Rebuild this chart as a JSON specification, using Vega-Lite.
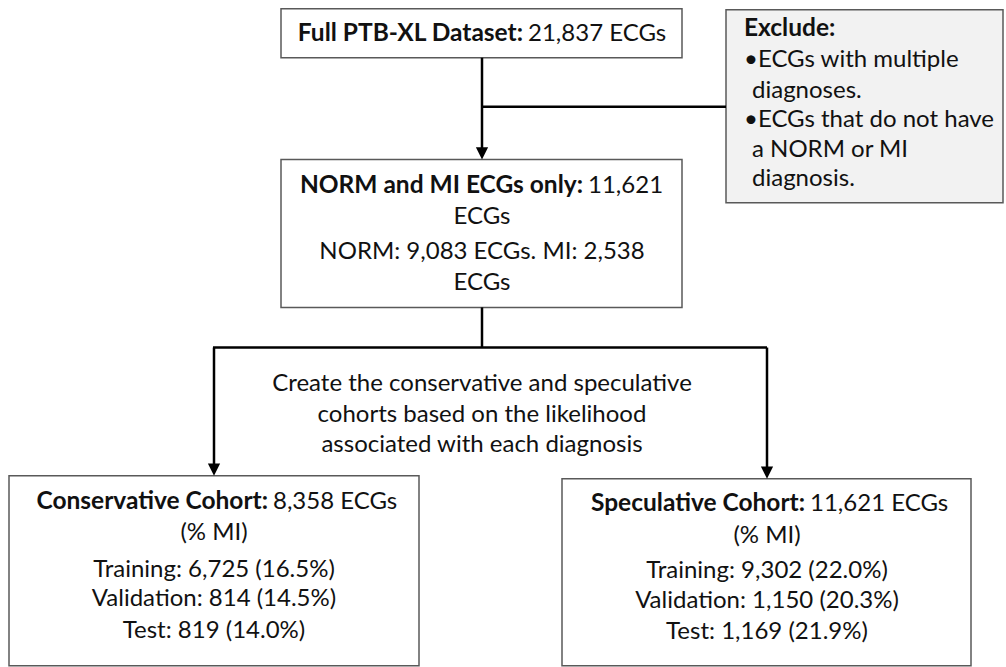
{
  "$schema": "https://vega.github.io/schema/vega-lite/v6.json",
  "width": 1006,
  "height": 667,
  "padding": 0,
  "autosize": {"type": "fit", "contains": "padding"},
  "background": "white",
  "config": {"view": {"stroke": null}},
  "datasets": {
    "boxes": [
      {"id": "full", "x": 281, "x2": 682, "y": 9, "y2": 59, "fill": "#ffffff"},
      {"id": "exclude", "x": 726, "x2": 1003, "y": 10, "y2": 207, "fill": "#f2f2f2"},
      {"id": "norm", "x": 281, "x2": 682, "y": 163, "y2": 314, "fill": "#ffffff"},
      {"id": "cons", "x": 9, "x2": 419, "y": 486, "y2": 680, "fill": "#ffffff"},
      {"id": "spec", "x": 562, "x2": 971, "y": 489, "y2": 680, "fill": "#ffffff"}
    ],
    "lines": [
      {"x": 482, "y": 59, "x2": 482, "y2": 155},
      {"x": 482, "y": 109, "x2": 726, "y2": 109},
      {"x": 482, "y": 314, "x2": 482, "y2": 355},
      {"x": 213, "y": 355, "x2": 767, "y2": 355},
      {"x": 214, "y": 355, "x2": 214, "y2": 478},
      {"x": 767, "y": 355, "x2": 767, "y2": 481}
    ],
    "arrows": [
      {"x": 482, "y": 163},
      {"x": 214, "y": 486},
      {"x": 767, "y": 489}
    ],
    "texts": [
      {"kind": "boldR", "x": 523, "y": 42, "text": "Full PTB-XL Dataset:"},
      {"kind": "regL", "x": 528, "y": 42, "text": "21,837 ECGs"},
      {"kind": "boldL", "x": 744, "y": 37, "text": "Exclude:"},
      {"kind": "regL", "x": 744, "y": 68, "text": "•ECGs with multiple"},
      {"kind": "regL", "x": 752, "y": 100, "text": "diagnoses."},
      {"kind": "regL", "x": 744, "y": 130, "text": "•ECGs that do not have"},
      {"kind": "regL", "x": 752, "y": 160, "text": "a NORM or MI"},
      {"kind": "regL", "x": 752, "y": 190, "text": "diagnosis."},
      {"kind": "boldR", "x": 583, "y": 197, "text": "NORM and MI ECGs only:"},
      {"kind": "regL", "x": 588, "y": 197, "text": "11,621"},
      {"kind": "center", "x": 482, "y": 229, "text": "ECGs"},
      {"kind": "center", "x": 482, "y": 265, "text": "NORM: 9,083 ECGs. MI: 2,538"},
      {"kind": "center", "x": 482, "y": 296, "text": "ECGs"},
      {"kind": "center", "x": 482, "y": 399, "text": "Create the conservative and speculative"},
      {"kind": "center", "x": 482, "y": 431, "text": "cohorts based on the likelihood"},
      {"kind": "center", "x": 482, "y": 462, "text": "associated with each diagnosis"},
      {"kind": "boldR", "x": 268, "y": 520, "text": "Conservative Cohort:"},
      {"kind": "regL", "x": 273, "y": 520, "text": "8,358 ECGs"},
      {"kind": "center", "x": 214, "y": 552, "text": "(% MI)"},
      {"kind": "center", "x": 214, "y": 589, "text": "Training: 6,725 (16.5%)"},
      {"kind": "center", "x": 214, "y": 619, "text": "Validation: 814 (14.5%)"},
      {"kind": "center", "x": 214, "y": 652, "text": "Test: 819 (14.0%)"},
      {"kind": "boldR", "x": 805, "y": 522, "text": "Speculative Cohort:"},
      {"kind": "regL", "x": 810, "y": 522, "text": "11,621 ECGs"},
      {"kind": "center", "x": 767, "y": 555, "text": "(% MI)"},
      {"kind": "center", "x": 767, "y": 590, "text": "Training: 9,302 (22.0%)"},
      {"kind": "center", "x": 767, "y": 621, "text": "Validation: 1,150 (20.3%)"},
      {"kind": "center", "x": 767, "y": 653, "text": "Test: 1,169 (21.9%)"}
    ]
  },
  "encoding": {},
  "layer": [
    {
      "data": {"name": "boxes"},
      "mark": {"type": "rect", "stroke": "#595959", "strokeWidth": 1.5},
      "encoding": {
        "x": {"field": "x", "type": "quantitative", "scale": {"domain": [0, 1006], "nice": false, "zero": false}, "axis": null},
        "x2": {"field": "x2"},
        "y": {"field": "y", "type": "quantitative", "scale": {"domain": [0, 667], "reverse": true, "nice": false, "zero": false}, "axis": null},
        "y2": {"field": "y2"},
        "fill": {"field": "fill", "type": "nominal", "scale": null, "legend": null}
      }
    },
    {
      "data": {"name": "lines"},
      "mark": {"type": "rule", "color": "#000000", "strokeWidth": 2.5},
      "encoding": {
        "x": {"field": "x", "type": "quantitative"},
        "x2": {"field": "x2"},
        "y": {"field": "y", "type": "quantitative"},
        "y2": {"field": "y2"}
      }
    },
    {
      "data": {"name": "arrows"},
      "mark": {"type": "point", "shape": "M-1,-2L1,-2L0,0Z", "filled": true, "color": "#000000", "size": 150, "opacity": 1},
      "encoding": {
        "x": {"field": "x", "type": "quantitative"},
        "y": {"field": "y", "type": "quantitative"}
      }
    },
    {
      "data": {"name": "texts"},
      "transform": [{"filter": "datum.kind === 'center'"}],
      "mark": {"type": "text", "align": "center", "baseline": "alphabetic", "font": "Lato", "fontSize": 24, "color": "#111111"},
      "encoding": {
        "x": {"field": "x", "type": "quantitative"},
        "y": {"field": "y", "type": "quantitative"},
        "text": {"field": "text"}
      }
    },
    {
      "data": {"name": "texts"},
      "transform": [{"filter": "datum.kind === 'regL'"}],
      "mark": {"type": "text", "align": "left", "baseline": "alphabetic", "font": "Lato", "fontSize": 24, "color": "#111111"},
      "encoding": {
        "x": {"field": "x", "type": "quantitative"},
        "y": {"field": "y", "type": "quantitative"},
        "text": {"field": "text"}
      }
    },
    {
      "data": {"name": "texts"},
      "transform": [{"filter": "datum.kind === 'boldR'"}],
      "mark": {"type": "text", "align": "right", "baseline": "alphabetic", "font": "Lato", "fontSize": 24.5, "fontWeight": "bold", "color": "#111111"},
      "encoding": {
        "x": {"field": "x", "type": "quantitative"},
        "y": {"field": "y", "type": "quantitative"},
        "text": {"field": "text"}
      }
    },
    {
      "data": {"name": "texts"},
      "transform": [{"filter": "datum.kind === 'boldL'"}],
      "mark": {"type": "text", "align": "left", "baseline": "alphabetic", "font": "Lato", "fontSize": 24.5, "fontWeight": "bold", "color": "#111111"},
      "encoding": {
        "x": {"field": "x", "type": "quantitative"},
        "y": {"field": "y", "type": "quantitative"},
        "text": {"field": "text"}
      }
    }
  ]
}
